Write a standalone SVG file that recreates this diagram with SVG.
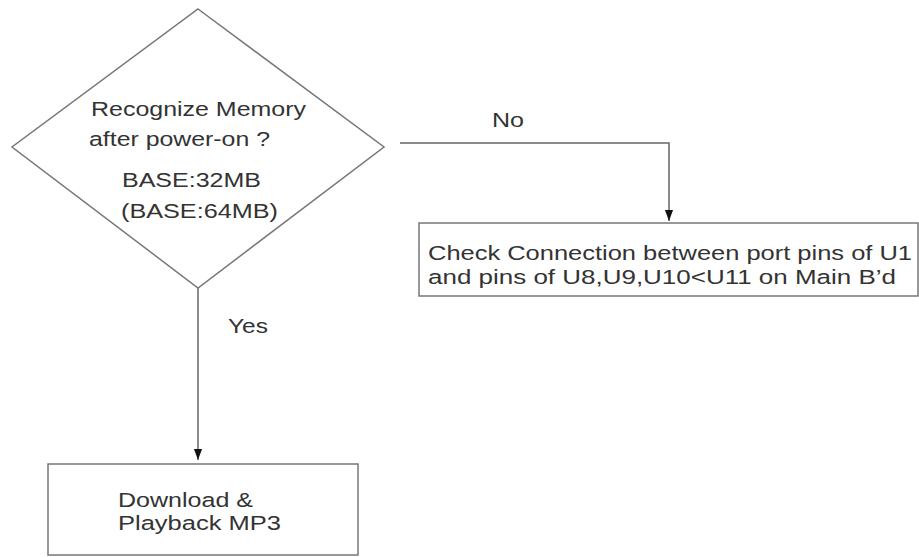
<svg xmlns="http://www.w3.org/2000/svg" width="919" height="557" viewBox="0 0 919 557">
<style>
.shape{fill:#fff;stroke:#777;stroke-width:1.5}
.line{fill:none;stroke:#666;stroke-width:1.5}
text{font-family:"Liberation Sans",Arial,sans-serif;font-size:20.5px;fill:#333}
</style>
<defs>
<marker id="arr" markerWidth="11" markerHeight="15" refX="15" refY="5.5" orient="auto" markerUnits="userSpaceOnUse" viewBox="0 0 15 11">
<path d="M0,0 L15,5.5 L0,11 Z" fill="#111"/>
</marker>
</defs>
<rect width="919" height="557" fill="#fff"/>
<g id="connectors">
<polyline class="line" points="198,288 198,460" marker-end="url(#arr)"/>
<polyline class="line" points="400,143 669,143 669,221" marker-end="url(#arr)"/>
<text x="228" y="333" textLength="40" lengthAdjust="spacingAndGlyphs">Yes</text>
<text x="492" y="127" textLength="32" lengthAdjust="spacingAndGlyphs">No</text>
</g>
<g id="decision">
<polygon class="shape" points="198,9 384,147 198,288 12,147"/>
<text x="91" y="116" textLength="215" lengthAdjust="spacingAndGlyphs">Recognize Memory</text>
<text x="89" y="146" textLength="181" lengthAdjust="spacingAndGlyphs">after power-on ?</text>
<text x="122" y="187" textLength="139" lengthAdjust="spacingAndGlyphs">BASE:32MB</text>
<text x="121" y="218" textLength="157" lengthAdjust="spacingAndGlyphs">(BASE:64MB)</text>
</g>
<g id="check">
<rect class="shape" x="419" y="223" width="499" height="73"/>
<text x="428" y="260" textLength="484" lengthAdjust="spacingAndGlyphs">Check Connection between port pins of U1</text>
<text x="428" y="284" textLength="468" lengthAdjust="spacingAndGlyphs">and pins of U8,U9,U10&lt;U11 on Main B’d</text>
</g>
<g id="download">
<rect class="shape" x="48" y="464" width="310" height="91"/>
<text x="118" y="507" textLength="135" lengthAdjust="spacingAndGlyphs">Download &amp;</text>
<text x="118" y="530" textLength="163" lengthAdjust="spacingAndGlyphs">Playback MP3</text>
</g>
</svg>
